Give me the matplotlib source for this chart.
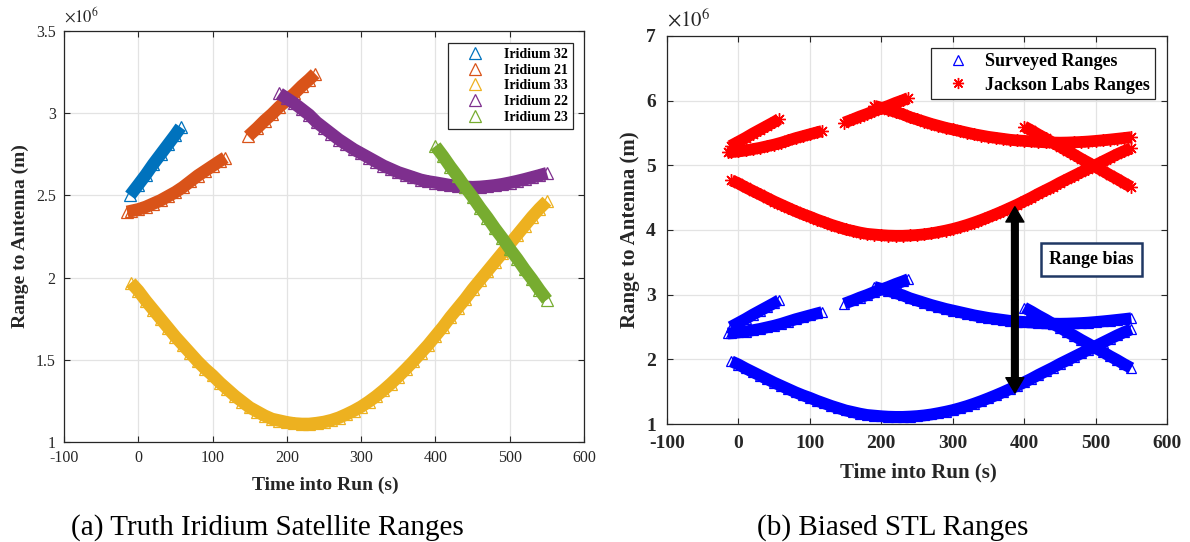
import numpy as np
import matplotlib
matplotlib.use('Agg')
import matplotlib.pyplot as plt
from matplotlib.lines import Line2D

plt.rcParams['font.family'] = ['Liberation Serif', 'DejaVu Serif']
plt.rcParams['mathtext.fontset'] = 'stix'
plt.rcParams['axes.unicode_minus'] = False

# ranges in units of 1e6 m, time in s
iri32_t = [-11, 0, 10, 20, 30, 40, 50, 57]
iri32_r = [2.50, 2.565, 2.625, 2.69, 2.75, 2.81, 2.87, 2.915]

iri21a_t = [-15, -10, 0, 10, 20, 30, 40, 50, 60, 70, 80, 90, 100, 110, 117]
iri21a_r = [2.40, 2.405, 2.415, 2.43, 2.45, 2.47, 2.495, 2.52, 2.55, 2.585, 2.62, 2.65, 2.68, 2.71, 2.73]
iri21b_t = [148, 160, 170, 180, 190, 200, 210, 220, 230, 238]
iri21b_r = [2.86, 2.91, 2.955, 2.995, 3.04, 3.08, 3.12, 3.165, 3.205, 3.24]

iri33_t = list(range(-10, 551, 10))
iri33_r = [1.97, 1.92, 1.86, 1.805, 1.75, 1.695, 1.64, 1.59, 1.54, 1.49,
           1.445, 1.405, 1.36, 1.32, 1.28, 1.245, 1.21, 1.185, 1.16, 1.14,
           1.13, 1.12, 1.113, 1.11, 1.11, 1.115, 1.122, 1.133, 1.148, 1.168,
           1.19, 1.215, 1.245, 1.278, 1.315, 1.355, 1.398, 1.443, 1.49, 1.54,
           1.59, 1.645, 1.70, 1.76, 1.815, 1.87, 1.93, 1.985, 2.04, 2.095,
           2.15, 2.205, 2.26, 2.315, 2.37, 2.42, 2.465]

iri22_t = list(range(190, 551, 10))
iri22_r = [3.12, 3.09, 3.06, 3.025, 2.99, 2.945, 2.91, 2.875, 2.84, 2.81,
           2.78, 2.755, 2.73, 2.705, 2.68, 2.66, 2.64, 2.625, 2.61, 2.595,
           2.585, 2.578, 2.57, 2.562, 2.556, 2.552, 2.55, 2.552, 2.556, 2.561,
           2.568, 2.577, 2.587, 2.598, 2.61, 2.622, 2.635]

iri23_t = list(range(400, 551, 10))
iri23_r = [2.80, 2.74, 2.675, 2.615, 2.55, 2.49, 2.425, 2.365, 2.30, 2.24,
           2.175, 2.115, 2.05, 1.99, 1.925, 1.865]

range_bias = 2.8  # Jackson Labs clock bias, 1e6 m

sat_names = ['Iridium 32', 'Iridium 21', 'Iridium 33', 'Iridium 22', 'Iridium 23']
sat_colors = ['#0072BD', '#D95319', '#EDB120', '#7E2F8E', '#77AC30']
sat_passes = [
    [(iri32_t, iri32_r)],
    [(iri21a_t, iri21a_r), (iri21b_t, iri21b_r)],
    [(iri33_t, iri33_r)],
    [(iri22_t, iri22_r)],
    [(iri23_t, iri23_r)],
]

fig = plt.figure(figsize=(11.9, 5.42), dpi=100)
ax1 = fig.add_axes([0.0538, 0.1845, 0.437, 0.7583])
ax2 = fig.add_axes([0.5605, 0.2177, 0.4202, 0.7159])

ink = '#262626'
grid_c = '#e3e3e3'
star = (8, 2, 0)  # matlab-like asterisk


def style_axes(ax, size, weight, pad):
    ax.set_xlim(-100, 600)
    ax.set_xticks(np.arange(-100, 601, 100))
    ax.grid(True, color=grid_c, lw=0.9)
    ax.set_axisbelow(True)
    ax.tick_params(direction='in', top=True, right=True, length=4, width=0.8,
                   colors=ink, labelsize=size, pad=pad)
    for lab in ax.get_xticklabels() + ax.get_yticklabels():
        lab.set_fontweight(weight)
    for sp in ax.spines.values():
        sp.set_color(ink)
        sp.set_linewidth(0.9)
    ax.yaxis.set_major_formatter(plt.FuncFormatter(lambda v, _: f'{v:g}'))


# (a) truth ranges
for name, col, passes in zip(sat_names, sat_colors, sat_passes):
    for t, r in passes:
        ax1.plot(t, r, color=col, lw=9, solid_capstyle='butt', zorder=2)
        ax1.plot(t, r, ls='none', marker='^', ms=8, mfc='none', mec=col, mew=0.9, zorder=2)
ax1.set_ylim(1, 3.5)
ax1.set_yticks(np.arange(1, 3.51, 0.5))
style_axes(ax1, 11.5, 'normal', 6)
ax1.text(0.0, 1.012, r'$\times10^{6}$', transform=ax1.transAxes, fontsize=12,
         color=ink, ha='left', va='bottom')
ax1.set_xlabel('Time into Run (s)', fontsize=14, fontweight='bold', color=ink)
ax1.set_ylabel('Range to Antenna (m)', fontsize=14, fontweight='bold', color=ink)
ax1.xaxis.set_label_coords(0.502, -0.085)
ax1.yaxis.set_label_coords(-0.067, 0.5)
h1 = [Line2D([], [], ls='none', marker='^', ms=8, mfc='none', mec=c, mew=0.9) for c in sat_colors]
leg1 = ax1.legend(h1, sat_names, loc='upper right', bbox_to_anchor=(0.979, 0.971),
                  borderaxespad=0, fancybox=False, edgecolor=ink, framealpha=1,
                  prop={'size': 10, 'weight': 'bold'}, labelspacing=0.2,
                  borderpad=0.35, handlelength=3.2, handletextpad=0.5)
leg1.get_frame().set_linewidth(0.9)

# (b) biased ranges
for passes in sat_passes:
    for t, r in passes:
        ax2.plot(t, r, color='#0000FF', lw=8.5, solid_capstyle='butt', zorder=2)
        ax2.plot(t, r, ls='none', marker='^', ms=7, mfc='none', mec='#0000FF', mew=0.9, zorder=2)
for passes in sat_passes:
    for t, r in passes:
        rj = np.array(r) + range_bias
        ax2.plot(t, rj, color='#FF0000', lw=8.5, solid_capstyle='butt', zorder=2)
        ax2.plot(t, rj, ls='none', marker=star, ms=9, color='#FF0000', mew=1.0, zorder=2)
ax2.set_ylim(1, 7)
ax2.set_yticks(np.arange(1, 8, 1))
style_axes(ax2, 14, 'bold', 8)
ax2.text(0.0, 1.012, r'$\times10^{6}$', transform=ax2.transAxes, fontsize=15,
         color=ink, ha='left', va='bottom')
ax2.set_xlabel('Time into Run (s)', fontsize=15, fontweight='bold', color=ink)
ax2.set_ylabel('Range to Antenna (m)', fontsize=15, fontweight='bold', color=ink)
ax2.xaxis.set_label_coords(0.502, -0.100)
ax2.yaxis.set_label_coords(-0.054, 0.5)
h2 = [Line2D([], [], ls='none', marker='^', ms=7, mfc='none', mec='#0000FF', mew=0.9),
      Line2D([], [], ls='none', marker=star, ms=8, color='#FF0000', mew=1.0)]
leg2 = ax2.legend(h2, ['Surveyed Ranges', 'Jackson Labs Ranges'], loc='upper right',
                  bbox_to_anchor=(0.976, 0.969), borderaxespad=0, fancybox=False,
                  edgecolor=ink, framealpha=1, prop={'size': 13, 'weight': 'bold'},
                  labelspacing=0.35, borderpad=0.3, handlelength=2.4, handletextpad=0.3)
leg2.get_frame().set_linewidth(0.9)

# range bias arrow
arrow_t = 387
arrow_lo, arrow_hi, arrow_mid = 1.48, 4.36, 2.92
for end in (arrow_lo, arrow_hi):
    ax2.annotate('', xy=(arrow_t, end), xytext=(arrow_t, arrow_mid), zorder=5,
                 arrowprops=dict(arrowstyle='simple,head_length=0.55,head_width=0.65,tail_width=0.24',
                                 color='black', mutation_scale=20, shrinkA=0, shrinkB=0))
ax2.text(494, 3.54, 'Range bias', fontsize=13, fontweight='bold', ha='center', va='center',
         zorder=6, bbox=dict(boxstyle='square,pad=0.45', fc='white', ec='#203864', lw=1.8))

fig.text(0.2248, 0.026, '(a) Truth Iridium Satellite Ranges', fontsize=21, ha='center', va='center')
fig.text(0.750, 0.026, '(b) Biased STL Ranges', fontsize=21, ha='center', va='center')

fig.savefig('out.png', dpi=100)
